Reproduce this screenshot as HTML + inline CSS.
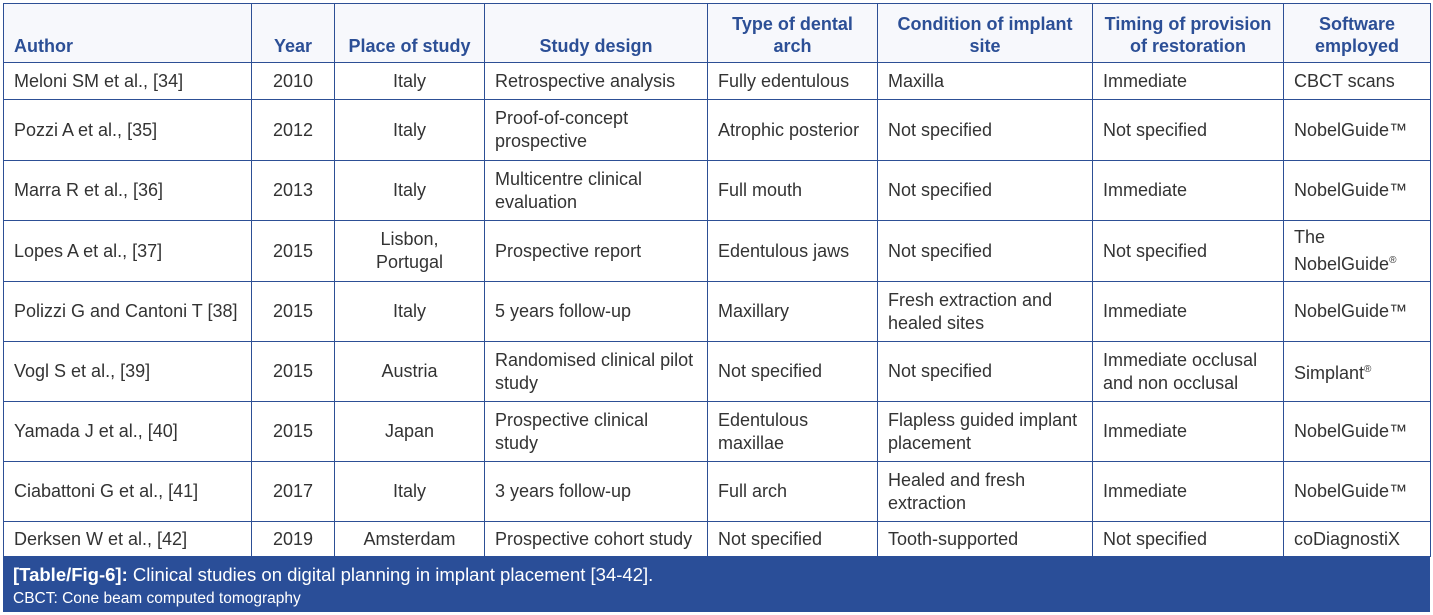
<!DOCTYPE html>
<html><head><meta charset="utf-8"><style>
body{margin:0;width:1433px;height:615px;background:#fff;position:relative;overflow:hidden;font-family:"Liberation Sans",Arial,sans-serif;}
table{position:absolute;left:3px;top:3px;border-collapse:collapse;table-layout:fixed;width:1427px;}
td,th{border:1.3px solid #2d4f95;font-size:18px;color:#333;line-height:23px;padding:0 10px;vertical-align:middle;text-align:left;white-space:nowrap;overflow:hidden;}
th{color:#2c4f96;font-weight:bold;font-size:18px;background:#f7f8fc;vertical-align:bottom;padding:0 4px 5px;text-align:center;line-height:22px;}
.c{text-align:center;}
.cap{position:absolute;left:3px;top:556px;width:1427px;height:56px;background:#2a4e98;color:#fff;}
.cap .a{position:absolute;left:10px;top:8px;font-size:18.5px;}
.cap .b{position:absolute;left:10px;top:34px;font-size:15.5px;}
sup{font-size:10px;}
</style></head><body>
<table>
<colgroup><col style="width:248px"><col style="width:83px"><col style="width:150px"><col style="width:223px"><col style="width:170px"><col style="width:215px"><col style="width:191px"><col style="width:147px"></colgroup>
<tr style="height:59px"><th style="text-align:left;padding-left:10px">Author</th><th>Year</th><th>Place of study</th><th>Study design</th><th>Type of dental<br>arch</th><th>Condition of implant<br>site</th><th>Timing of provision<br>of restoration</th><th>Software<br>employed</th></tr>
<tr style="height:37px"><td>Meloni SM et al., [34]</td><td class="c">2010</td><td class="c">Italy</td><td>Retrospective analysis</td><td>Fully edentulous</td><td>Maxilla</td><td>Immediate</td><td>CBCT scans</td></tr>
<tr style="height:61px"><td>Pozzi A et al., [35]</td><td class="c">2012</td><td class="c">Italy</td><td>Proof-of-concept<br>prospective</td><td>Atrophic posterior</td><td>Not specified</td><td>Not specified</td><td>NobelGuide™</td></tr>
<tr style="height:60px"><td>Marra R et al., [36]</td><td class="c">2013</td><td class="c">Italy</td><td>Multicentre clinical<br>evaluation</td><td>Full mouth</td><td>Not specified</td><td>Immediate</td><td>NobelGuide™</td></tr>
<tr style="height:61px"><td>Lopes A et al., [37]</td><td class="c">2015</td><td class="c">Lisbon,<br>Portugal</td><td>Prospective report</td><td>Edentulous jaws</td><td>Not specified</td><td>Not specified</td><td>The<br>NobelGuide<sup>®</sup></td></tr>
<tr style="height:60px"><td>Polizzi G and Cantoni T [38]</td><td class="c">2015</td><td class="c">Italy</td><td>5 years follow-up</td><td>Maxillary</td><td>Fresh extraction and<br>healed sites</td><td>Immediate</td><td>NobelGuide™</td></tr>
<tr style="height:60px"><td>Vogl S et al., [39]</td><td class="c">2015</td><td class="c">Austria</td><td>Randomised clinical pilot<br>study</td><td>Not specified</td><td>Not specified</td><td>Immediate occlusal<br>and non occlusal</td><td>Simplant<sup>®</sup></td></tr>
<tr style="height:60px"><td>Yamada J et al., [40]</td><td class="c">2015</td><td class="c">Japan</td><td>Prospective clinical<br>study</td><td>Edentulous<br>maxillae</td><td>Flapless guided implant<br>placement</td><td>Immediate</td><td>NobelGuide™</td></tr>
<tr style="height:60px"><td>Ciabattoni G et al., [41]</td><td class="c">2017</td><td class="c">Italy</td><td>3 years follow-up</td><td>Full arch</td><td>Healed and fresh<br>extraction</td><td>Immediate</td><td>NobelGuide™</td></tr>
<tr style="height:35px"><td>Derksen W et al., [42]</td><td class="c">2019</td><td class="c">Amsterdam</td><td>Prospective cohort study</td><td>Not specified</td><td>Tooth-supported</td><td>Not specified</td><td>coDiagnostiX</td></tr>
</table>
<div class="cap"><div class="a"><b>[Table/Fig-6]:</b> Clinical studies on digital planning in implant placement [34-42].</div><div class="b">CBCT: Cone beam computed tomography</div></div>
</body></html>
